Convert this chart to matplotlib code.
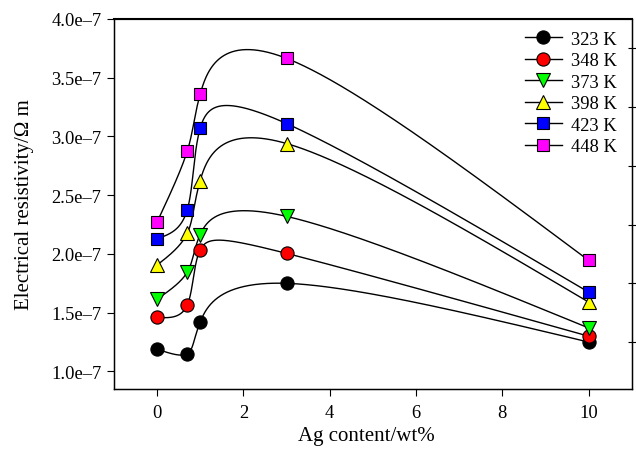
import numpy as np
import matplotlib
matplotlib.use("Agg")
import matplotlib.pyplot as plt
from matplotlib.ticker import FuncFormatter, FixedLocator
from matplotlib.lines import Line2D

plt.rcParams['font.family'] = ['Liberation Serif', 'DejaVu Serif']

ag_content = [0, 0.7, 1, 3, 10]
temps = ["323 K", "348 K", "373 K", "398 K", "423 K", "448 K"]
r323 = [1.19e-7, 1.15e-7, 1.42e-7, 1.75e-7, 1.25e-7]
r348 = [1.46e-7, 1.565e-7, 2.035e-7, 2.005e-7, 1.30e-7]
r373 = [1.615e-7, 1.845e-7, 2.165e-7, 2.32e-7, 1.37e-7]
r398 = [1.905e-7, 2.175e-7, 2.625e-7, 2.94e-7, 1.59e-7]
r423 = [2.13e-7, 2.375e-7, 3.07e-7, 3.11e-7, 1.675e-7]
r448 = [2.27e-7, 2.875e-7, 3.36e-7, 3.665e-7, 1.945e-7]
series = [r323, r348, r373, r398, r423, r448]
colors = ["black", "red", "#00ff00", "yellow", "blue", "magenta"]
markers = ["o", "o", "v", "^", "s", "s"]


def natural_spline_1d(t, y, ts):
    t = np.asarray(t, float)
    y = np.asarray(y, float)
    n = len(t)
    h = np.diff(t)
    A = np.zeros((n, n))
    b = np.zeros(n)
    A[0, 0] = 1
    A[-1, -1] = 1
    for i in range(1, n - 1):
        A[i, i - 1] = h[i - 1]
        A[i, i] = 2 * (h[i - 1] + h[i])
        A[i, i + 1] = h[i]
        b[i] = 6 * ((y[i + 1] - y[i]) / h[i] - (y[i] - y[i - 1]) / h[i - 1])
    M = np.linalg.solve(A, b)
    out = np.empty_like(ts)
    for k, s in enumerate(ts):
        i = min(max(np.searchsorted(t, s) - 1, 0), n - 2)
        hh = t[i + 1] - t[i]
        a = (t[i + 1] - s) / hh
        bb = (s - t[i]) / hh
        out[k] = (a * y[i] + bb * y[i + 1]
                  + ((a ** 3 - a) * M[i] + (bb ** 3 - bb) * M[i + 1]) * hh ** 2 / 6)
    return out


def screen_spline(ax, x, y, n=800):
    # parametric natural cubic spline (uniform parameter) in screen space
    pts = ax.transData.transform(np.column_stack([x, y]))
    t = np.arange(len(x), dtype=float)
    ts = np.linspace(0, t[-1], n)
    px = natural_spline_1d(t, pts[:, 0], ts)
    py = natural_spline_1d(t, pts[:, 1], ts)
    back = ax.transData.inverted().transform(np.column_stack([px, py]))
    return back[:, 0], back[:, 1]


fig = plt.figure(figsize=(6.36, 4.52), dpi=100)
ax = fig.add_axes([0.179, 0.137, 0.8145, 0.8188])
ax.set_xlim(-1, 11.0)
ax.set_ylim(0.85e-7, 4.0e-7)

def msize(m):
    return 9.5 if m == "o" else (10.5 if m in "v^" else 8.5)

handles = []
for vals, c, m, lab in zip(series, colors, markers, temps):
    cx, cy = screen_spline(ax, ag_content, vals)
    ax.plot(cx, cy, color="black", lw=1.0, zorder=2)
    ax.plot(ag_content, vals, linestyle="none", marker=m, markersize=msize(m),
            markerfacecolor=c, markeredgecolor="black", markeredgewidth=0.8, zorder=3)
    handles.append(Line2D([0], [0], color="black", lw=1.0, marker=m, markersize=msize(m),
                          markerfacecolor=c, markeredgecolor="black", markeredgewidth=0.8))

ax.set_xticks([0, 2, 4, 6, 8, 10])
ax.set_yticks([1.0e-7, 1.5e-7, 2.0e-7, 2.5e-7, 3.0e-7, 3.5e-7, 4.0e-7])
ax.yaxis.set_major_formatter(FuncFormatter(lambda v, p: f"{v*1e7:.1f}e\u20137"))
ax.tick_params(axis="both", direction="out", length=5, width=0.8, labelsize=13.3, pad=4)
ax.tick_params(axis="x", pad=6)

ax2 = ax.twinx()
ax2.set_ylim(ax.get_ylim())
ax2.yaxis.set_major_locator(FixedLocator([1.25e-7, 1.75e-7, 2.25e-7, 2.75e-7, 3.25e-7, 3.75e-7]))
ax2.tick_params(axis="y", direction="inout", length=6, width=0.8, labelright=False)

for sp in ax.spines.values():
    sp.set_linewidth(1.0)
ax.spines["top"].set_linewidth(1.5)

ax.set_xlabel("Ag content/wt%", fontsize=15)
ax.xaxis.set_label_coords(0.487, -0.1)
ax.set_ylabel("Electrical resistivity/\u03a9 m", fontsize=15, labelpad=12)

ax.legend(handles, temps, loc="upper right", frameon=False, fontsize=13.3,
          handlelength=2.0, handletextpad=0.5, labelspacing=0.24,
          bbox_to_anchor=(0.996, 1.003), borderaxespad=0.3)

fig.savefig("out.png", dpi=100)
